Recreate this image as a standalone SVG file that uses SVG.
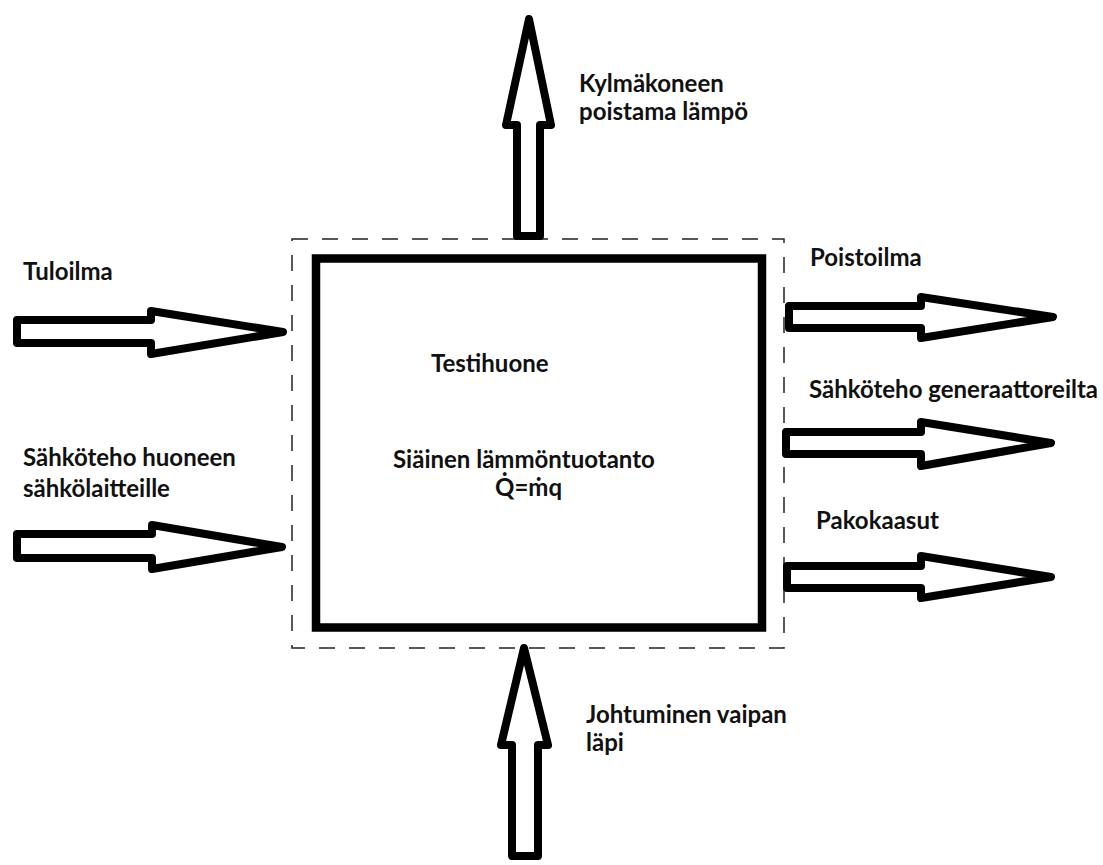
<svg xmlns="http://www.w3.org/2000/svg" width="1103" height="865" viewBox="0 0 1103 865">
<style>
.t{font-family:Lato,"Open Sans","Liberation Sans",sans-serif;font-weight:bold;font-size:24px;fill:#111}
.arrow{fill:#fff;stroke:#000;stroke-width:8;stroke-linejoin:round}
.bound{fill:none;stroke:#222;stroke-width:1.5;stroke-dasharray:16 14}
.room{fill:#fff;stroke:#000;stroke-width:8.5}
</style>
<rect width="1103" height="865" fill="#fff"/>
<g id="boundary"><rect class="bound" x="292" y="239" width="492" height="409"/></g>
<g id="room">
<rect class="room" x="316" y="258.5" width="446" height="369"/>
<text class="t" x="431" y="372">Testihuone</text>
<text class="t" x="393" y="468">Siäinen lämmöntuotanto</text>
<text class="t" x="495" y="496">Q̇=ṁq</text>
</g>
<g id="connectors">
<polygon id="a-top" class="arrow" points="517,236 517,125 506,125 529,19 551,125 540,125 540,236"/>
<polygon id="a-left1" class="arrow" points="17,320 151,320 151,311 283,332 151,354 151,343 17,343"/>
<polygon id="a-left2" class="arrow" points="17,534 152,534 152,525 282,547 152,569 152,558 17,558"/>
<polygon id="a-right1" class="arrow" points="789,306 921,306 921,297 1053,317 921,338 921,328 789,328"/>
<polygon id="a-right2" class="arrow" points="786,432 921,432 921,422 1051,443 921,466 921,454 786,454"/>
<polygon id="a-right3" class="arrow" points="787,566 921,566 921,556 1051,577 921,598 921,588 787,588"/>
<polygon id="a-bottom" class="arrow" points="512,856 512,745 501,745 524,648 548,745 538,745 538,856"/>
</g>
<g id="labels">
<text class="t" x="579" y="92">Kylmäkoneen</text>
<text class="t" x="579" y="120">poistama lämpö</text>
<text class="t" x="23" y="280">Tuloilma</text>
<text class="t" x="23" y="466">Sähköteho huoneen</text>
<text class="t" x="23" y="497">sähkölaitteille</text>
<text class="t" x="810" y="266">Poistoilma</text>
<text class="t" x="809" y="398">Sähköteho generaattoreilta</text>
<text class="t" x="816" y="529">Pakokaasut</text>
<text class="t" x="586" y="723">Johtuminen vaipan</text>
<text class="t" x="586" y="751">läpi</text>
</g>
</svg>
